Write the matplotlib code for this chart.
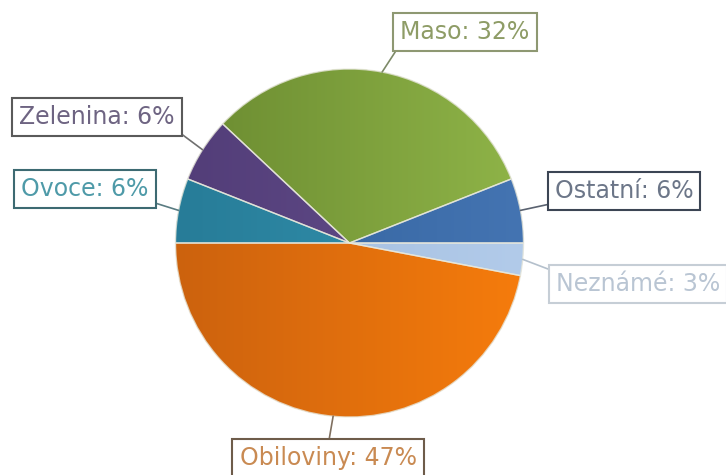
import numpy as np
import matplotlib
matplotlib.use("Agg")
import matplotlib.pyplot as plt
from matplotlib.patches import Wedge
from matplotlib.colors import to_rgb

# food categories, counter-clockwise from 3 o'clock
categories = ["Ostatní", "Maso", "Zelenina", "Ovoce", "Obiloviny", "Neznámé"]
shares = [6, 32, 6, 6, 47, 3]

# slice fill: darker on the left, lighter on the right
left_colors = ["#30609a", "#6a8a30", "#523d78", "#277c98", "#cc620e", "#9fbbdc"]
right_colors = ["#4474b2", "#8fb448", "#66508e", "#3596b2", "#f67c0c", "#b2cbea"]

text_colors = ["#6c7688", "#8e9c66", "#6e6482", "#4e9aa8", "#c98a52", "#b9c5d3"]
box_edges = ["#3c4554", "#8e9872", "#5a5a5a", "#3d6a72", "#6e5c4a", "#c6ced6"]
line_colors = ["#5a6270", "#7d8a68", "#707070", "#5a7c82", "#807060", "#b4c0cc"]

# label centres (pixels from top-left) and where the leader line leaves the box
label_pos = [(624, 191), (465, 32), (97, 117), (85, 189), (328, 458), (638, 284)]
rel_pos = [(0, 0), (0, 0), (1, 0), (1, 0), (0.5, 1), (0, 1)]

W, H = 726, 475
cx, cy, r = 349.5, H - 243, 174

fig = plt.figure(figsize=(W / 100, H / 100), dpi=100)
ax = fig.add_axes([0, 0, 1, 1])

wedges, _ = ax.pie(shares, startangle=0, counterclock=True, center=(cx, cy),
                   radius=r, colors=left_colors, wedgeprops=dict(linewidth=0))

# horizontal shading inside each slice
for w, c0, c1 in zip(wedges, left_colors, right_colors):
    a, b = np.array(to_rgb(c0)), np.array(to_rgb(c1))
    t = np.linspace(0, 1, 256)[None, :, None]
    img = np.repeat(a + (b - a) * t, 2, axis=0)
    im = ax.imshow(img, extent=(cx - r, cx + r, cy - r, cy + r),
                   origin="lower", aspect="auto", zorder=w.get_zorder() + 0.1)
    im.set_clip_path(w)

# thin light seams between slices
for w in wedges:
    ax.add_patch(Wedge((cx, cy), r, w.theta1, w.theta2, fill=False,
                       edgecolor="#e8e8dc", alpha=0.8, linewidth=1.0, zorder=3))

for i, w in enumerate(wedges):
    mid = np.deg2rad((w.theta1 + w.theta2) / 2)
    edge_pt = (cx + r * np.cos(mid), cy + r * np.sin(mid))
    lx, ly = label_pos[i]
    ax.annotate(f"{categories[i]}: {shares[i]}%", xy=edge_pt, xytext=(lx, H - ly),
                ha="center", va="center", fontsize=17, color=text_colors[i],
                family="DejaVu Sans", zorder=5,
                bbox=dict(boxstyle="square,pad=0.3", fc="white",
                          ec=box_edges[i], lw=1.5),
                arrowprops=dict(arrowstyle="-", color=line_colors[i], lw=1.2,
                                relpos=rel_pos[i], shrinkA=0, shrinkB=0))

ax.set_xlim(0, W)
ax.set_ylim(0, H)
ax.set_aspect("auto")
ax.axis("off")

fig.savefig("out.png", dpi=100)
